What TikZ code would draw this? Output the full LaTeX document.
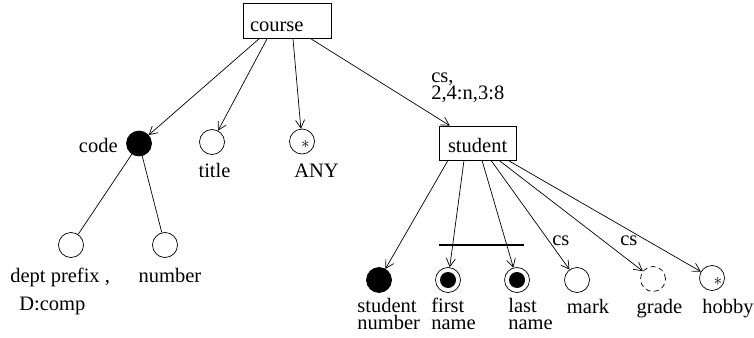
\documentclass[tikz,border=0pt]{standalone}
\usepackage{fontspec}
\setmainfont{Liberation Serif}
\usetikzlibrary{arrows.meta}
\begin{document}
\begin{tikzpicture}[x=1pt,y=-1pt,
  font=\fontsize{20.5}{17}\selectfont,
  line width=0.7pt,
  >={Straight Barb[length=8pt,width=9pt,line width=0.7pt]},
  leaf/.style={circle,draw,minimum size=25pt,inner sep=0pt},
  keyleaf/.style={leaf,fill=black},
  dleaf/.style={leaf,dashed,dash pattern=on 5pt off 3.5pt},
  box/.style={draw,rectangle,inner ysep=0pt,minimum height=35pt,text height=22pt,text depth=0pt,align=left},
  lbl/.style={inner sep=0pt,anchor=base},
  star/.style={inner sep=0pt,font=\fontsize{17}{17}\selectfont}
]
\useasboundingbox (0,0) rectangle (754,337);

% boxes
\node[box,inner xsep=7pt,text width=74pt] (course) at (287,21) {course};
\node[box,inner xsep=9pt,text width=59pt,text height=18pt,minimum height=34pt] (student) at (477.5,143) {student};

% first level leaves
\node[keyleaf] (code) at (139,143.5) {};
\node[leaf] (title) at (212,142) {};
\node[leaf] (any) at (302,141.5) {};
\node[star] (anystar) at (305.5,144.5) {$\ast$};

% code children
\node[leaf] (dp) at (71,245) {};
\node[leaf] (num) at (165,245) {};

% student children
\node[keyleaf] (sn) at (379,280) {};
\node[leaf] (fn) at (448,280) {};
\node[circle,fill=black,minimum size=16pt,inner sep=0pt] (fnin) at (fn) {};
\node[leaf] (ln) at (517,280) {};
\node[circle,fill=black,minimum size=16pt,inner sep=0pt] (lnin) at (ln) {};
\node[leaf] (mark) at (577,280) {};
\node[dleaf] (grade) at (653,279) {};
\node[leaf] (hobby) at (712,278) {};
\node[star] (hobbystar) at (718,281) {$\ast$};

% edges from course
\draw[->] ([xshift=-28pt]course.south) -- (code);
\draw[->] ([xshift=-20pt]course.south) -- (title);
\draw[->] ([xshift=6pt]course.south) -- (any);
\draw[->] ([xshift=24pt]course.south) -- (student);

% edges from code
\draw (code) -- (dp);
\draw (code) -- (num);

% edges from student
\draw[->] ([xshift=-29.5pt]student.south) -- (sn);
\draw[->] ([xshift=-13.5pt]student.south) -- (fn);
\draw[->] ([xshift=4.5pt]student.south) -- (ln);
\draw[->] ([xshift=13.5pt]student.south) -- (mark);
\draw[->] ([xshift=21.5pt]student.south) -- (grade);
\draw[->] ([xshift=30.5pt]student.south) -- (hobby);

% key bar
\coordinate (barl) at (439,245);
\coordinate (barr) at (524,245);
\draw[line width=1.4pt] (barl) -- (barr);

% labels
\node[lbl,anchor=base east] (lcode) at (118,152) {code};
\node[lbl] (ltitle) at (214.5,177) {title};
\node[lbl] (lany) at (316.5,177) {ANY};
\node[lbl,anchor=base west,align=left] (lcs) at (431,99) {cs,\\2,4:n,3:8};
\node[lbl,anchor=base west,align=left,font=\fontsize{20.5}{28}\selectfont] (ldp) at (10,310) {dept prefix ,\\\hspace*{9pt}D:comp};
\node[lbl] (lnum) at (170,282) {number};
\node[lbl,anchor=base west,align=left,font=\fontsize{20.5}{17}\selectfont] (lsn) at (357,329.5) {student\\number};
\node[lbl,anchor=base west,align=left,font=\fontsize{20.5}{17}\selectfont] (lfn) at (431,329.5) {first\\name};
\node[lbl,anchor=base west,align=left,font=\fontsize{20.5}{17}\selectfont] (lln) at (508,329.5) {last\\name};
\node[lbl] (lmark) at (588,313) {mark};
\node[lbl] (lgrade) at (659.5,313) {grade};
\node[lbl,anchor=base west] (lhobby) at (702,313) {hobby};
\node[lbl,anchor=base west] (lcs1) at (552,245) {cs};
\node[lbl,anchor=base west] (lcs2) at (620,245) {cs};
\end{tikzpicture}
\end{document}
